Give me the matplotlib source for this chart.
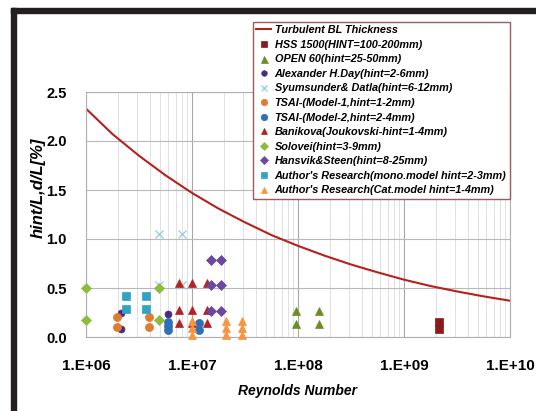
import matplotlib
matplotlib.use("Agg")
import matplotlib.pyplot as plt
from matplotlib.patches import Rectangle

# ---------------- data ----------------
re_curve = [1e6, 1.78e6, 3.16e6, 5.62e6, 1e7, 1.78e7, 3.16e7, 5.62e7, 1e8,
            1.78e8, 3.16e8, 5.62e8, 1e9, 1.78e9, 3.16e9, 5.62e9, 1e10]
bl_curve = [2.33, 2.07, 1.85, 1.65, 1.47, 1.31, 1.17, 1.04, 0.93,
            0.83, 0.74, 0.66, 0.585, 0.52, 0.465, 0.415, 0.37]

hss_re = [2.15e9, 2.15e9]
hss_y = [0.155, 0.08]

open_re = [9.5e7, 9.5e7, 1.58e8, 1.58e8]
open_y = [0.27, 0.128, 0.27, 0.128]

day_re = [2.13e6, 2.13e6, 6.0e6]
day_y = [0.25, 0.08, 0.235]

syum_re = [4.9e6, 8.0e6, 4.9e6, 8.0e6]
syum_y = [1.05, 1.05, 0.53, 0.53]

tsai1_re = [1.97e6, 1.97e6, 3.93e6, 3.93e6]
tsai1_y = [0.2, 0.1, 0.2, 0.1]

tsai2_re = [6.0e6, 6.0e6, 6.0e6, 1.17e7, 1.17e7]
tsai2_y = [0.15, 0.11, 0.07, 0.145, 0.075]

ban_re = [7.6e6, 7.6e6, 7.6e6, 1.0e7, 1.0e7, 1.0e7, 1.39e7, 1.39e7, 1.39e7]
ban_y = [0.55, 0.28, 0.14, 0.55, 0.28, 0.14, 0.55, 0.28, 0.14]

sol_re = [1e6, 1e6, 4.9e6, 4.9e6]
sol_y = [0.5, 0.17, 0.5, 0.17]

han_re = [1.5e7, 1.5e7, 1.5e7, 1.88e7, 1.88e7, 1.88e7]
han_y = [0.79, 0.53, 0.265, 0.79, 0.53, 0.265]

mono_re = [2.38e6, 2.38e6, 3.66e6, 3.66e6]
mono_y = [0.42, 0.29, 0.42, 0.29]

cat_re = [1.0e7, 1.0e7, 1.0e7, 2.09e7, 2.09e7, 2.09e7, 2.94e7, 2.94e7, 2.94e7]
cat_y = [0.16, 0.095, 0.025, 0.16, 0.095, 0.025, 0.16, 0.095, 0.025]

xtick_vals = [1e6, 1e7, 1e8, 1e9, 1e10]
xtick_labels = ["1.E+06", "1.E+07", "1.E+08", "1.E+09", "1.E+10"]
ytick_vals = [0.0, 0.5, 1.0, 1.5, 2.0, 2.5]
ytick_labels = ["0.0", "0.5", "1.0", "1.5", "2.0", "2.5"]

labels = [
    "Turbulent BL Thickness",
    "HSS 1500(HINT=100-200mm)",
    "OPEN 60(hint=25-50mm)",
    "Alexander H.Day(hint=2-6mm)",
    "Syumsunder& Datla(hint=6-12mm)",
    "TSAI-(Model-1,hint=1-2mm)",
    "TSAI-(Model-2,hint=2-4mm)",
    "Banikova(Joukovski-hint=1-4mm)",
    "Solovei(hint=3-9mm)",
    "Hansvik&Steen(hint=8-25mm)",
    "Author's Research(mono.model hint=2-3mm)",
    "Author's Research(Cat.model hint=1-4mm)",
]

REG = ["Liberation Sans", "DejaVu Sans"]

fig = plt.figure(figsize=(5.36, 4.11), dpi=100)
fig.patch.set_facecolor("white")

L, R, T, B = 86, 510, 92, 337
W, H = 536, 411
ax = fig.add_axes([L / W, 1 - B / H, (R - L) / W, (B - T) / H])
ax.set_xscale("log")
ax.set_xlim(1e6, 1e10)
ax.set_ylim(0, 2.5)

ax.grid(True, which="major", axis="x", color="#a8a8a8", lw=0.8)
ax.grid(True, which="minor", axis="x", color="#dcdcdc", lw=0.6)
ax.grid(True, which="major", axis="y", color="#b8b8b8", lw=0.8)
ax.set_axisbelow(True)
for s in ax.spines.values():
    s.set_color("#b0b0b0")
    s.set_linewidth(0.8)

ms = 5.8
handles = []
h, = ax.plot(re_curve, bl_curve, color="#b5221b", lw=1.5, label=labels[0])
handles.append(h)

series = [
    (hss_re, hss_y, "s", "#8b1a1a", ms),
    (open_re, open_y, "^", "#6b8e23", ms + 0.5),
    (day_re, day_y, "o", "#4a2c7f", ms - 0.8),
    (syum_re, syum_y, "x", "#9fd0de", ms),
    (tsai1_re, tsai1_y, "o", "#e07b30", ms),
    (tsai2_re, tsai2_y, "o", "#2e6fb7", ms),
    (ban_re, ban_y, "^", "#b32025", ms),
    (sol_re, sol_y, "D", "#8cbb3f", ms - 0.8),
    (han_re, han_y, "D", "#6a48a0", ms - 0.8),
    (mono_re, mono_y, "s", "#31a3c4", ms),
    (cat_re, cat_y, "^", "#f7963d", ms),
]
for (xs, ys, mk, col, sz), lab in zip(series, labels[1:]):
    if mk == "x":
        h, = ax.plot(xs, ys, ls="none", marker=mk, ms=sz, mec=col, mew=1.0,
                     label=lab, clip_on=False, zorder=3)
    else:
        h, = ax.plot(xs, ys, ls="none", marker=mk, ms=sz, mfc=col, mec=col,
                     mew=0.5, label=lab, clip_on=False, zorder=3)
    handles.append(h)

ax.set_xticks(xtick_vals)
ax.set_xticklabels(xtick_labels, fontfamily=REG, fontweight="bold", fontsize=11)
ax.set_yticks(ytick_vals)
ax.set_yticklabels(ytick_labels, fontfamily=REG, fontweight="bold", fontsize=10.5)
ax.tick_params(axis="x", which="both", length=0, pad=16)
ax.tick_params(axis="y", which="both", length=0, pad=14)
ax.tick_params(axis="x", which="minor", labelbottom=False)

fig.text(298 / W, 1 - 391 / H, "Reynolds Number", ha="center", va="center",
         fontfamily=REG, fontweight="bold", fontstyle="italic", fontsize=10)
fig.text(38 / W, 1 - 188 / H, "hint/L,d/L[%]", ha="center", va="center",
         rotation=90, fontfamily=REG, fontweight="bold", fontstyle="italic",
         fontsize=12)

leg = fig.legend(handles=handles, loc="upper left",
                 bbox_to_anchor=(253 / W, 1 - 22 / H),
                 bbox_transform=fig.transFigure, borderaxespad=0,
                 prop={"family": REG, "weight": "bold", "style": "italic", "size": 7.8},
                 frameon=True, fancybox=False, edgecolor="#9c5a64",
                 framealpha=1, borderpad=0.3, labelspacing=0.42,
                 handlelength=1.4, handletextpad=0.3, markerscale=0.8)
leg.get_frame().set_linewidth(1.0)

# black frame bars
fig.patches.append(Rectangle((11 / W, 1 - 13 / H), 1 - 11 / W, 5 / H,
                             transform=fig.transFigure, color="#231f20", zorder=10))
fig.patches.append(Rectangle((11 / W, 0), 5 / W, 1 - 8 / H,
                             transform=fig.transFigure, color="#231f20", zorder=10))

fig.savefig("out.png", dpi=100, facecolor="white")
